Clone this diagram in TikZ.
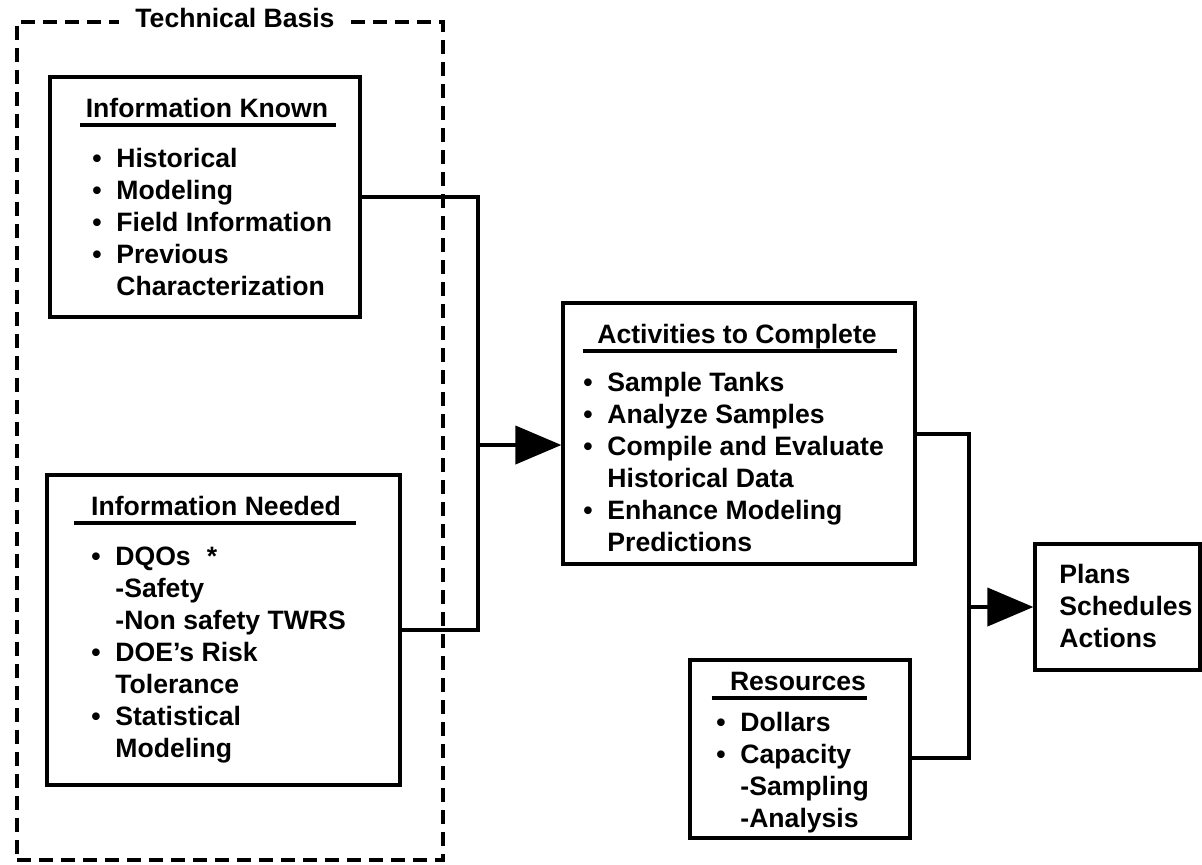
\documentclass[tikz,border=0pt]{standalone}
\usepackage{fontspec}
\setmainfont{Liberation Sans}
\usetikzlibrary{positioning,arrows.meta}

\newcommand{\boxfont}{\fontsize{13.3}{16}\selectfont\bfseries}
\newcommand{\bul}{\makebox[12pt][l]{\textbullet}}
\newcommand{\cont}{\hspace*{12pt}}

\begin{document}
\begin{tikzpicture}[x=0.5pt, y=-0.5pt,
  panel/.style={draw, rectangle, line width=1.6pt, inner sep=0pt},
  basisframe/.style={draw, rectangle, line width=2pt, dash pattern=on 7pt off 4pt, inner sep=0pt},
  head/.style={font=\boxfont, inner sep=0pt, anchor=base},
  items/.style={font=\boxfont, align=left, inner sep=0pt, anchor=base west},
  headrule/.style={line width=1.6pt},
  link/.style={line width=2pt},
  flow/.style={link, -{Triangle[length=23pt, width=19pt]}},]
\useasboundingbox (0,0) rectangle (1202,864);

%Nodes
\node[basisframe, minimum width=213pt, minimum height=419pt] (basis) at (230,441) {};
\node[head, fill=white, inner xsep=8pt] (basishead) at (235,27) {Technical Basis};

\node[panel, minimum width=155pt, minimum height=120pt] (known) at (205,197) {};
\node[head] (knownhead) at (207,117) {Information Known};
\node[items] (knownlist) at (92,295) {\bul Historical\\\bul Modeling\\\bul Field Information\\\bul Previous\\\cont Characterization};

\node[panel, minimum width=176.5pt, minimum height=155pt] (needed) at (223.5,630) {};
\node[head] (neededhead) at (216,515) {Information Needed};
\node[items] (neededlist) at (91,757) {\bul DQOs\hspace{8pt}*\\\cont -Safety\\\cont -Non safety TWRS\\\bul DOE's Risk\\\cont Tolerance\\\bul Statistical\\\cont Modeling};

\node[panel, minimum width=176pt, minimum height=130.5pt] (todo) at (739,433.5) {};
\node[head] (todohead) at (737,343) {Activities to Complete};
\node[items] (todolist) at (583,551) {\bul Sample Tanks\\\bul Analyze Samples\\\bul Compile and Evaluate\\\cont Historical Data\\\bul Enhance Modeling\\\cont Predictions};

\node[panel, minimum width=110pt, minimum height=89pt] (res) at (800,749) {};
\node[head] (reshead) at (798,690) {Resources};
\node[items] (reslist) at (716,827) {\bul Dollars\\\bul Capacity\\\cont -Sampling\\\cont -Analysis};

\node[panel, minimum width=82.5pt, minimum height=63pt] (plans) at (1117.5,607) {};
\node[items] (planslist) at (1059,647) {Plans\\Schedules\\Actions};

\coordinate (jl) at (478,445);
\coordinate (jr) at (969,607);

%Underlines
\foreach \h/\l/\r in {knownhead/2.5/3.5, neededhead/8.5/7.5, todohead/7/10, reshead/9/0.5}
  \draw[headrule] ([shift={(-\l pt,-4pt)}]\h.base west) -- ([shift={(\r pt,-4pt)}]\h.base east);

%Lines
\draw[link] (known.east) -| (jl) |- (needed.east);
\draw[flow] (jl) -- (jl -| todo.west);
\draw[link] (todo.east) -| (jr) |- ([yshift=-4.5pt]res.east);
\draw[flow] (jr) -- (plans.west);

\end{tikzpicture}
\end{document}
